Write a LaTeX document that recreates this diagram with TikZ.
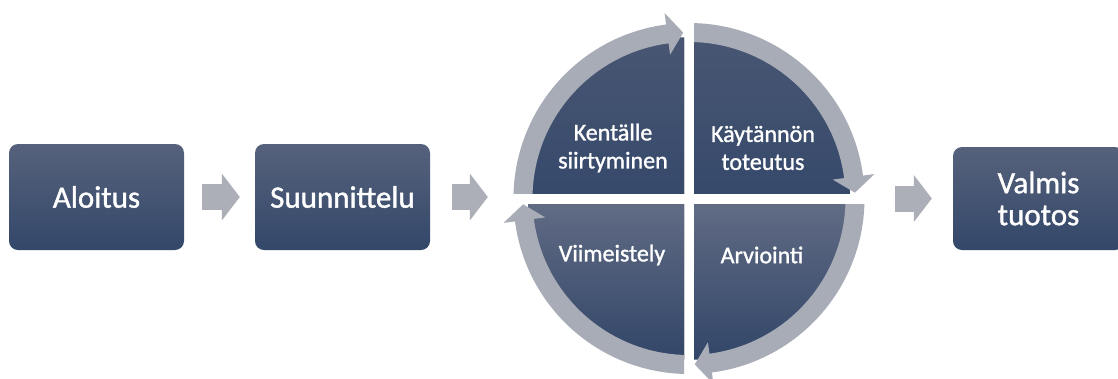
\documentclass[tikz,border=0pt]{standalone}
\usepackage{fontspec}
\setmainfont{Carlito}
\newfontfamily\labelfont{Carlito}[FakeBold=1.2]
\usetikzlibrary{arrows.meta}
\definecolor{boxtop}{RGB}{86,98,124}
\definecolor{boxbot}{RGB}{51,71,105}
\definecolor{qtopU}{RGB}{72,86,114}
\definecolor{qbotU}{RGB}{54,73,107}
\definecolor{qtopL}{RGB}{98,108,133}
\definecolor{qbotL}{RGB}{50,70,104}
\definecolor{ringgray}{RGB}{168,172,182}
\definecolor{arrowgray}{RGB}{172,174,184}
\newcommand\ringarrow[3]{% start angle, head base angle, tip angle
  \fill[ringgray] (#1:175.5pt) arc[start angle=#1, end angle=#2, radius=175.5pt]
    -- (#2:187pt) -- (#3:166pt) -- (#2:145pt) -- (#2:156.5pt)
    arc[start angle=#2, end angle=#1, radius=156.5pt] -- cycle;}
\begin{document}
\begin{tikzpicture}[x=1pt,y=-1pt,
  stagebox/.style={rounded corners=9pt, top color=boxtop, bottom color=boxbot,
    minimum width=175pt, minimum height=106pt, inner sep=0pt, text=white,
    font=\labelfont\fontsize{31}{32}\selectfont, align=center},
  qlabel/.style={text=white, font=\labelfont\fontsize{24}{28}\selectfont, align=center},
  flowarrow/.style={draw=arrowgray, line width=26pt, -{Triangle[width=46pt,length=18pt]}}]
\useasboundingbox (0,0) rectangle (1118,378);
\fill[white] (0,0) rectangle (1118,378);

\node[stagebox] (aloitus) at (96.5,197) {Aloitus};
\node[stagebox] (suunnittelu) at (342.5,197) {Suunnittelu};
\node[stagebox, minimum width=171pt, minimum height=103pt] (valmis) at (1038.5,198.5) {Valmis\\tuotos};
\node[circle, minimum size=352pt, inner sep=0pt] (wheel) at (689,198.5) {};

% quadrants and ring arrows
\begin{scope}[shift={(689,198.5)}, y=1pt]
  % top-left
  \begin{scope}
    \clip (-5,5.5) rectangle (-200,200);
    \fill[top color=qtopU, bottom color=qbotU] (0,0) -- (180:161pt) arc[start angle=180, end angle=90, radius=161pt] -- cycle;
    \ringarrow{180}{97.5}{92}
  \end{scope}
  % top-right
  \begin{scope}
    \clip (5,5.5) rectangle (200,200);
    \fill[top color=qtopU, bottom color=qbotU] (0,0) -- (90:161pt) arc[start angle=90, end angle=0, radius=161pt] -- cycle;
    \ringarrow{90}{7.5}{2}
  \end{scope}
  % bottom-right
  \begin{scope}
    \clip (5,-5.5) rectangle (200,-200);
    \fill[top color=qtopL, bottom color=qbotL] (0,0) -- (0:161pt) arc[start angle=0, end angle=-90, radius=161pt] -- cycle;
    \ringarrow{0}{-82.5}{-88}
  \end{scope}
  % bottom-left
  \begin{scope}
    \clip (-5,-5.5) rectangle (-200,-200);
    \fill[top color=qtopL, bottom color=qbotL] (0,0) -- (-90:161pt) arc[start angle=-90, end angle=-180, radius=161pt] -- cycle;
    \ringarrow{-90}{-172.5}{-178}
  \end{scope}
\end{scope}

\node[qlabel] (kentalle) at (613,148) {Kentälle\\siirtyminen};
\node[qlabel] (kaytannon) at (763,148) {Käytännön\\toteutus};
\node[qlabel] (viimeistely) at (612,255) {Viimeistely};
\node[qlabel] (arviointi) at (762,255) {Arviointi};

\draw[flowarrow, shorten <=18pt, shorten >=15pt] (aloitus) -- (suunnittelu);
\draw[flowarrow, shorten <=22pt, shorten >=25pt] (suunnittelu.east) -- (suunnittelu.east -| wheel.west);
\draw[flowarrow, shorten <=30pt, shorten >=21pt] (wheel.east) -- (wheel.east -| valmis.west);
\end{tikzpicture}
\end{document}
